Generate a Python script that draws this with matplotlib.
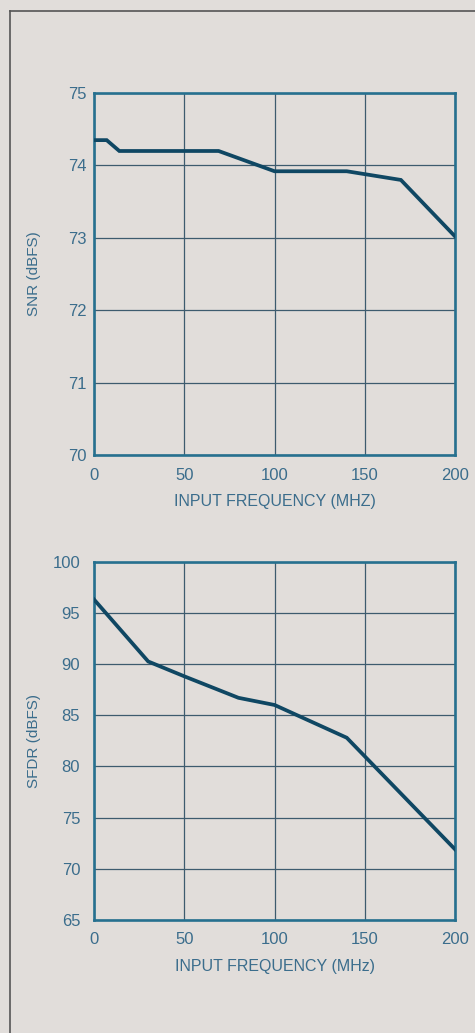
import matplotlib
matplotlib.use("Agg")
import matplotlib.pyplot as plt
from matplotlib.lines import Line2D

plt.rcParams['font.family'] = ['Liberation Sans', 'DejaVu Sans']

# SNR vs input frequency
snr_freq = [0, 7, 14, 69, 100, 140, 170, 200]
snr_db = [74.35, 74.35, 74.2, 74.2, 73.92, 73.92, 73.8, 73.02]

# SFDR vs input frequency
sfdr_freq = [0, 30, 50, 80, 100, 120, 140, 200]
sfdr_db = [96.3, 90.25, 88.8, 86.7, 86.0, 84.4, 82.8, 71.9]

freq_ticks = [0, 50, 100, 150, 200]
snr_ticks = [70, 71, 72, 73, 74, 75]
sfdr_ticks = [65, 70, 75, 80, 85, 90, 95, 100]

bg = '#e1ddda'
frame_col = '#26708f'
grid_col = '#3d5b6e'
line_col = '#0f4763'
text_col = '#3b6d8c'

fig = plt.figure(figsize=(4.75, 10.33), dpi=100, facecolor=bg)

# outer border, only left and top are visible
fig.add_artist(Line2D([0.021, 0.021], [0, 0.989], transform=fig.transFigure,
                      color='#555555', lw=1.2))
fig.add_artist(Line2D([0.021, 1.0], [0.989, 0.989], transform=fig.transFigure,
                      color='#555555', lw=1.2))


def make_panel(rect, x, y, yticks, ylabel, xlabel, ypad):
    ax = fig.add_axes(rect)
    ax.set_facecolor(bg)
    ax.plot(x, y, color=line_col, lw=2.7, solid_joinstyle='miter', zorder=3)
    ax.set_xlim(0, 200)
    ax.set_ylim(yticks[0], yticks[-1])
    ax.set_xticks(freq_ticks)
    ax.set_yticks(yticks)
    ax.grid(True, color=grid_col, lw=0.9)
    ax.tick_params(length=0, labelsize=12, colors=text_col)
    ax.tick_params(axis='x', pad=9)
    ax.tick_params(axis='y', pad=ypad)
    for s in ax.spines.values():
        s.set_color(frame_col)
        s.set_linewidth(1.9)
    ax.set_ylabel(ylabel, color=text_col, fontsize=11)
    ax.yaxis.set_label_coords(-0.147, 0.5)
    ax.set_xlabel(xlabel, color=text_col, fontsize=11.5)
    ax.xaxis.set_label_coords(0.5, -0.108)
    return ax


make_panel([0.198, 0.5595, 0.76, 0.3504], snr_freq, snr_db, snr_ticks,
           'SNR (dBFS)', 'INPUT FREQUENCY (MHZ)', 5)
make_panel([0.198, 0.1094, 0.76, 0.3469], sfdr_freq, sfdr_db, sfdr_ticks,
           'SFDR (dBFS)', 'INPUT FREQUENCY (MHz)', 10)

fig.savefig('out.png', dpi=100, facecolor=bg)
